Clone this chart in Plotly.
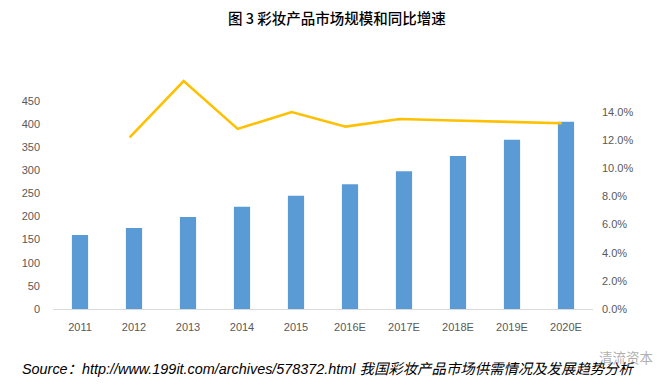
import plotly.graph_objects as go

years = ["2011", "2012", "2013", "2014", "2015", "2016E", "2017E", "2018E", "2019E", "2020E"]
market_size = [160, 175, 199, 221, 245, 270, 298, 331, 366, 405]
growth_years = ["2012", "2013", "2014", "2015", "2016E", "2017E", "2018E", "2019E", "2020E"]
growth_rate = [0.122, 0.162, 0.128, 0.140, 0.1296, 0.135, 0.134, 0.133, 0.132]
left_ticks = [0, 50, 100, 150, 200, 250, 300, 350, 400, 450]
right_ticks = [0, 0.02, 0.04, 0.06, 0.08, 0.10, 0.12, 0.14]

W, H = 661, 391
ML, MR, MT, MB = 53, 68, 75, 82

fig = go.Figure()
fig.add_trace(go.Bar(x=years, y=market_size, marker=dict(color="#5B9BD5", line=dict(width=0)),
                     yaxis="y", name="规模"))
fig.add_trace(go.Scatter(x=growth_years, y=growth_rate, mode="lines",
                         line=dict(color="#FFC000", width=2.6), xaxis="x2", yaxis="y2", name="增速"))

tickfont = dict(family="Liberation Sans, Arial", size=11, color="#595959")
fig.update_layout(
    width=W, height=H,
    margin=dict(l=ML, r=MR, t=MT, b=MB),
    paper_bgcolor="white", plot_bgcolor="white",
    showlegend=False,
    bargap=0.7,
    xaxis=dict(type="category", showgrid=False, showline=True, linecolor="#D9D9D9", linewidth=1,
               ticks="", tickfont=tickfont, ticklabelstandoff=8),
    xaxis2=dict(type="category", overlaying="x", categoryorder="array", categoryarray=years,
                range=[-0.42, 9.58], visible=False),
    yaxis=dict(range=[0, 506], tickvals=left_ticks, showgrid=False, zeroline=False, showline=False,
               tickfont=tickfont, ticklabelstandoff=12),
    yaxis2=dict(range=[0, 0.1663], tickvals=right_ticks, tickformat=".1%", overlaying="y", side="right",
                showgrid=False, zeroline=False, showline=False, tickfont=tickfont, ticklabelstandoff=8),
)

pw, ph = W - ML - MR, H - MT - MB
def px(x): return (x - ML) / pw
def py(y): return (H - MB - y) / ph

fig.add_annotation(text="图 3 彩妆产品市场规模和同比增速", x=px(337), y=py(18), xref="paper", yref="paper",
                   showarrow=False, font=dict(family="Noto Sans CJK SC", size=14.5, color="#000000",
                                              weight=500),
                   xanchor="center", yanchor="middle")
fig.add_annotation(text="<i>Source：http://www.199it.com/archives/578372.html 我国彩妆产品市场供需情况及发展趋势分析</i>",
                   x=px(20), y=py(369), xref="paper", yref="paper", showarrow=False,
                   font=dict(family="Liberation Sans, Noto Sans CJK SC", size=14.4, color="#000000"),
                   xanchor="left", yanchor="middle")
fig.add_annotation(text="清流资本", x=px(597), y=py(357), xref="paper", yref="paper", showarrow=False,
                   font=dict(family="Noto Sans CJK SC", size=13.5, color="rgba(140,140,140,0.7)"),
                   xanchor="left", yanchor="middle")

fig.write_html("out.html", config={"displayModeBar": False},
               post_script="document.body.style.margin='0px';")
